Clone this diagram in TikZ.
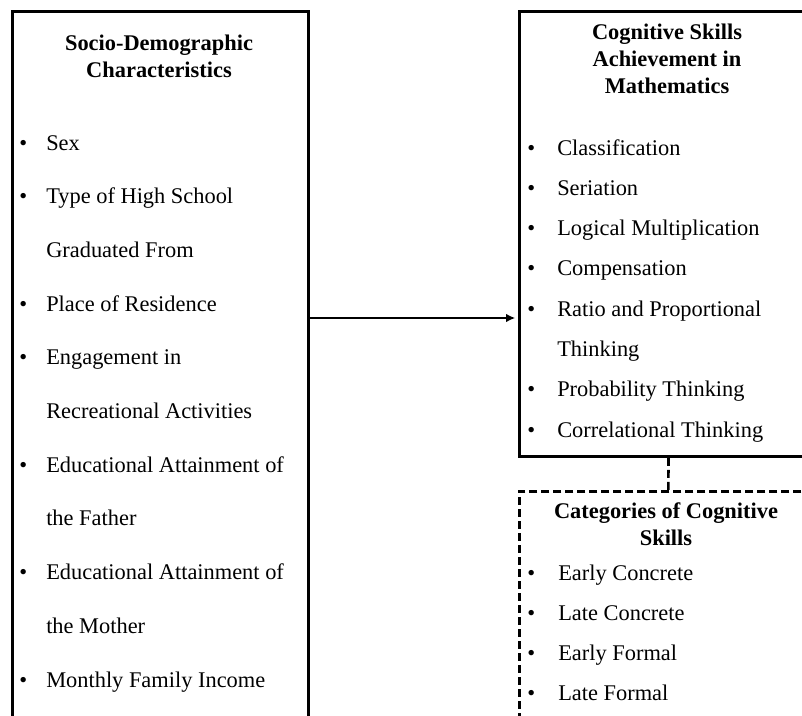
\documentclass[tikz,border=0pt]{standalone}
\usepackage{fontspec}
\setmainfont{Liberation Serif}
\usetikzlibrary{arrows.meta, positioning, calc}

\tikzset{
    framebox/.style={draw=black, line width=2.2pt, anchor=north west, inner sep=0pt},
    dashframe/.style={framebox, line width=2pt, dash pattern=on 6pt off 3pt},
    heading/.style={font=\fontsize{16.8}{20}\selectfont\bfseries, anchor=base, inner sep=0pt},
    item/.style={font=\fontsize{16.8}{20}\selectfont, anchor=base west, inner sep=0pt},
    link/.style={line width=1.9pt, -{Latex[length=7pt, width=6.5pt]}, shorten >=2pt}
}

\begin{document}
\begin{tikzpicture}[x=0.75pt, y=-0.75pt]
    \useasboundingbox (0,0) rectangle (802,715);
    \clip (0,0) rectangle (802,715);

    % The three boxes
    \node[framebox, minimum width=222pt, minimum height=529.5pt] (socio) at (11,10) {};
    \node[framebox, minimum width=223.5pt, minimum height=333.75pt] (cog) at (518,10) {};
    \node[dashframe, minimum width=223.5pt, minimum height=169.5pt] (cat) at (518,490) {};

    % Socio-demographic characteristics (left box)
    \node[heading] (socio-h1) at (159,50) {Socio-Demographic};
    \node[heading] (socio-h2) at (159,77) {Characteristics};
    \foreach \txt [count=\i from 0] in {Sex, Type of High School, Graduated From,
        Place of Residence, Engagement in, Recreational Activities,
        Educational Attainment of, the Father, Educational Attainment of,
        the Mother, Monthly Family Income} {
        \node[item] (socio-\i) at (46,{150+53.7*\i}) {\txt};
    }
    \foreach \i in {0,1,3,4,6,8,10} {
        \node[item] (socio-b\i) at (19,{150+53.7*\i}) {\textbullet};
    }

    % Cognitive skills achievement (right box)
    \node[heading] (cog-h1) at (667,39) {Cognitive Skills};
    \node[heading] (cog-h2) at (667,66) {Achievement in};
    \node[heading] (cog-h3) at (667,93) {Mathematics};
    \foreach \txt [count=\i from 0] in {Classification, Seriation,
        Logical Multiplication, Compensation, Ratio and Proportional,
        Thinking, Probability Thinking, Correlational Thinking} {
        \node[item] (cog-\i) at (557,{155+40.3*\i}) {\txt};
    }
    \foreach \i in {0,1,2,3,4,6,7} {
        \node[item] (cog-b\i) at (527,{155+40.3*\i}) {\textbullet};
    }

    % Categories of cognitive skills (dashed box)
    \node[heading] (cat-h1) at (666,518) {Categories of Cognitive};
    \node[heading] (cat-h2) at (666,545) {Skills};
    \foreach \txt [count=\i from 0] in {Early Concrete, Late Concrete,
        Early Formal, Late Formal} {
        \node[item] (cat-\i) at (558,{580+40*\i}) {\txt};
        \node[item] (cat-b\i) at (527,{580+40*\i}) {\textbullet};
    }

    % Connectors
    \coordinate (arrow-y) at (0,318);
    \draw[link] (socio.east |- arrow-y) -- (cog.west |- arrow-y);
    \draw[line width=2pt, dash pattern=on 6pt off 3pt] (cog.south) -- (cat.north);
\end{tikzpicture}
\end{document}
